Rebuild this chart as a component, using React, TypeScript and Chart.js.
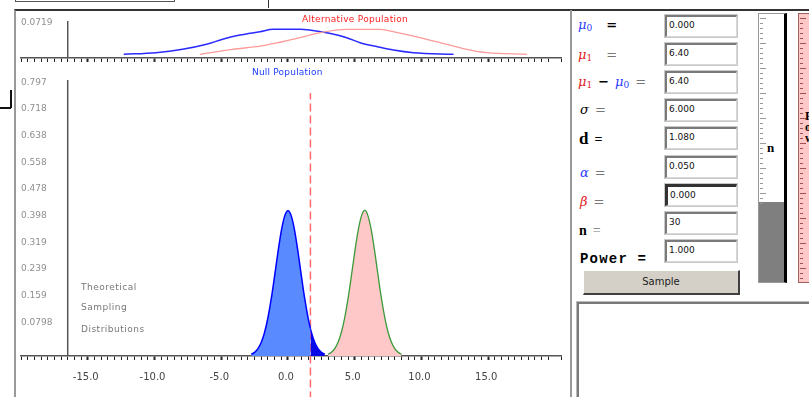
import React, { useEffect, useRef } from 'react';
import { Chart, registerables } from 'chart.js';

Chart.register(...registerables);

// ---------- shared x axis ----------
const X_MIN = -20;
const X_MAX = 20.45;
const X_STEP = 0.5;
const X_LABEL_VALUES = [-15, -10, -5, 0, 5, 10, 15];
const X_LABELS = ['-15.0', '-10.0', '-5.0', '0.0', '5.0', '10.0', '15.0'];
const Y_AXIS_AT = -16.5;

// ---------- top chart: populations ----------
const POP_Y_MAX = 0.094;
const POP_TICK_VALUES = [0.0719];
const POP_TICK_LABELS = ['0.0719'];
const NULL_POP_X = [-12.3, -9.9, -7.9, -6.1, -4.9, -3.6, -2.1, -1.1, 0.9, 1.6, 3.1, 4.4, 5.4, 6.7, 7.9, 9.4, 12.4];
const NULL_POP_Y = [0.0094, 0.0135, 0.0221, 0.0348, 0.0475, 0.0584, 0.0668, 0.0729, 0.0729, 0.0711, 0.0627, 0.0516, 0.0389, 0.0287, 0.0203, 0.0135, 0.0094];
const ALT_POP_X = [-6.6, -4.15, -2.1, -0.6, 0.9, 2.4, 4.4, 6.9, 8.2, 10.1, 11.9, 13.4, 14.9, 17.9];
const ALT_POP_Y = [0.0094, 0.0221, 0.0300, 0.0400, 0.0515, 0.0643, 0.0729, 0.0729, 0.0643, 0.0500, 0.0348, 0.0221, 0.0135, 0.0094];

// ---------- main chart: sampling distributions ----------
const SAMPLE_Y_MAX = 0.8248;
const SAMPLE_TICK_VALUES = [0.0797, 0.1594, 0.2391, 0.3188, 0.3985, 0.4782, 0.5579, 0.6376, 0.7173, 0.797];
const SAMPLE_TICK_LABELS = ['0.0798', '0.159', '0.239', '0.319', '0.398', '0.478', '0.558', '0.638', '0.718', '0.797'];
const CRIT = 1.68;
const CRIT_LINE_Y = [-0.13, 0.786];
const NULL_X = [-2.75, -2.5, -2.25, -2, -1.75, -1.5, -1.25, -1, -0.75, -0.5, -0.25, 0, 0.25, 0.5, 0.75, 1, 1.25, 1.5, 1.68, 1.75, 2, 2.25, 2.5, 2.75];
const NULL_Y = [0.005, 0.011, 0.022, 0.041, 0.071, 0.115, 0.172, 0.240, 0.311, 0.374, 0.418, 0.434, 0.418, 0.374, 0.311, 0.240, 0.172, 0.115, 0.082, 0.071, 0.041, 0.022, 0.011, 0.005];
const ALT_X = [3.0, 3.25, 3.5, 3.75, 4.0, 4.25, 4.5, 4.75, 5.0, 5.25, 5.5, 5.75, 6.0, 6.25, 6.5, 6.75, 7.0, 7.25, 7.5, 7.75, 8.0, 8.25, 8.5];
const ALT_Y = [0.005, 0.011, 0.022, 0.041, 0.071, 0.115, 0.172, 0.240, 0.311, 0.374, 0.418, 0.436, 0.418, 0.374, 0.311, 0.240, 0.172, 0.115, 0.071, 0.041, 0.022, 0.011, 0.005];

// ---------- control panel values ----------
const FIELD_VALUES = ['0.000', '6.40', '6.40', '6.000', '1.080', '0.050', '0.000', '30', '1.000'];
const POWER_BAR_LETTERS = ['P', 'o', 'w'];

const FONT = "'DejaVu Sans', 'Liberation Sans', sans-serif";

function pts(xs: number[], ys: number[]) {
  return xs.map((x, i) => ({ x, y: ys[i] }));
}

function xLabel(v: number) {
  const i = X_LABEL_VALUES.findIndex((u) => Math.abs(u - v) < 1e-6);
  return i >= 0 ? X_LABELS[i] : '';
}

function makeOptions(yMax: number, tickValues: number[], tickLabels: string[], padTop: number, xHeight: number, showXLabels: boolean): any {
  return {
    animation: false,
    responsive: false,
    maintainAspectRatio: false,
    devicePixelRatio: 1,
    layout: { padding: { left: 21, right: 15, top: padTop, bottom: 0 } },
    plugins: { legend: { display: false }, tooltip: { enabled: false }, title: { display: false } },
    elements: { point: { radius: 0 } },
    scales: {
      x: {
        type: 'linear',
        min: X_MIN,
        max: X_MAX,
        afterFit: (s: any) => { s.height = xHeight; },
        ticks: {
          display: showXLabels,
          stepSize: X_STEP,
          maxTicksLimit: 200,
          autoSkip: false,
          maxRotation: 0,
          minRotation: 0,
          padding: 11,
          labelOffset: -2,
          color: '#444',
          font: { family: FONT, size: 10 },
          callback: (v: any) => xLabel(Number(v)),
        },
        grid: {
          drawOnChartArea: false,
          drawTicks: true,
          tickLength: 4,
          tickColor: '#222',
          tickWidth: (ctx: any) => (ctx.tick && X_LABEL_VALUES.some((u) => Math.abs(u - ctx.tick.value) < 1e-6) ? 2 : 1),
        },
        border: { display: true, color: '#555', width: 1.5 },
      },
      y: {
        type: 'linear',
        position: 'left',
        min: 0,
        max: yMax,
        afterFit: (s: any) => { s.width = 0; },
        afterBuildTicks: (s: any) => { s.ticks = tickValues.map((v) => ({ value: v })); },
        ticks: {
          mirror: true,
          padding: 0,
          labelOffset: -7,
          color: '#8f8f8f',
          font: { family: FONT, size: 9 },
          callback: (_v: any, i: number) => tickLabels[i],
        },
        grid: { display: false, drawTicks: false },
        border: { display: false },
      },
    },
  };
}

function TopChart() {
  const ref = useRef<HTMLCanvasElement>(null);
  useEffect(() => {
    const chart = new Chart(ref.current as HTMLCanvasElement, {
      type: 'line',
      data: {
        datasets: [
          { data: [{ x: Y_AXIS_AT, y: 0 }, { x: Y_AXIS_AT, y: POP_Y_MAX }], borderColor: '#555', borderWidth: 1.5, fill: false },
          { data: pts(ALT_POP_X, ALT_POP_Y), borderColor: '#ff9a9a', borderWidth: 1.3, fill: false, tension: 0.35, cubicInterpolationMode: 'monotone' },
          { data: pts(NULL_POP_X, NULL_POP_Y), borderColor: '#2a2aff', borderWidth: 1.5, fill: false, tension: 0.35, cubicInterpolationMode: 'monotone' },
        ] as any,
      },
      options: makeOptions(POP_Y_MAX, POP_TICK_VALUES, POP_TICK_LABELS, 9, 8, false),
    });
    return () => chart.destroy();
  }, []);
  return <canvas ref={ref} width={576} height={54} style={{ position: 'absolute', left: 0, top: 12, width: 576, height: 54 }} />;
}

function MainChart() {
  const ref = useRef<HTMLCanvasElement>(null);
  useEffect(() => {
    const nullPts = pts(NULL_X, NULL_Y);
    const chart = new Chart(ref.current as HTMLCanvasElement, {
      type: 'line',
      data: {
        datasets: [
          { data: [{ x: Y_AXIS_AT, y: 0 }, { x: Y_AXIS_AT, y: SAMPLE_Y_MAX }], borderColor: '#555', borderWidth: 1.5, fill: false },
          { data: nullPts.filter((p) => p.x <= CRIT), borderColor: '#0000ff', borderWidth: 1.5, backgroundColor: '#5a8aff', fill: 'origin', tension: 0.3, cubicInterpolationMode: 'monotone' },
          { data: nullPts.filter((p) => p.x >= CRIT), borderColor: '#0000ff', borderWidth: 1.5, backgroundColor: '#0a0ae6', fill: 'origin', tension: 0.3, cubicInterpolationMode: 'monotone' },
          { data: pts(ALT_X, ALT_Y), borderColor: '#3a9a3a', borderWidth: 1.3, backgroundColor: '#ffc8c8', fill: 'origin', tension: 0.3, cubicInterpolationMode: 'monotone' },
          { data: [{ x: CRIT, y: CRIT_LINE_Y[0] }, { x: CRIT, y: CRIT_LINE_Y[1] }], borderColor: '#ff6a6a', borderWidth: 1.5, borderDash: [8, 4], fill: false, clip: false },
        ] as any,
      },
      options: makeOptions(SAMPLE_Y_MAX, SAMPLE_TICK_VALUES, SAMPLE_TICK_LABELS, 18, 41, true),
    });
    return () => chart.destroy();
  }, []);
  return <canvas ref={ref} width={576} height={335} style={{ position: 'absolute', left: 0, top: 62, width: 576, height: 335 }} />;
}

const abs = (s: React.CSSProperties): React.CSSProperties => ({ position: 'absolute', ...s });

function Lbl({ x, y, children, style }: { x: number; y: number; children: React.ReactNode; style?: React.CSSProperties }) {
  return (
    <div style={abs({ left: x, top: y - 9, height: 18, lineHeight: '18px', whiteSpace: 'nowrap', fontFamily: "'DejaVu Serif', serif", fontSize: 13, ...style })}>
      {children}
    </div>
  );
}

const FIELD_TOPS = [15, 43, 71, 99, 127, 156, 184, 212, 240];

function Field({ top, text, focused }: { top: number; text: string; focused?: boolean }) {
  return (
    <div
      style={abs({
        left: 665, top, width: 72, height: 22, boxSizing: 'border-box', background: '#fff',
        borderTop: focused ? '3px solid #333' : '2px solid #7a7a7a',
        borderLeft: focused ? '3px solid #333' : '2px solid #7a7a7a',
        borderRight: '1px solid #d8d8d8', borderBottom: '1px solid #d8d8d8',
        outline: '1px solid #c8c8c8',
        fontFamily: "'DejaVu Sans', sans-serif", fontSize: 9, lineHeight: '17px', paddingLeft: 2, color: '#111',
      })}
    >
      {text}
    </div>
  );
}

const mu = (color: string, sub: string) => (
  <span style={{ color }}>
    <i>μ</i>
    <span style={{ fontSize: 9, position: 'relative', top: 2 }}>{sub}</span>
  </span>
);

function Panel() {
  const ticks1 = [] as React.ReactNode[];
  for (let k = 0; k < 38; k++) {
    const y = 18 + k * 5;
    ticks1.push(<div key={k} style={abs({ left: 760, top: y, width: k % 5 === 0 ? 6 : 3, height: 1, background: '#999' })} />);
  }
  const ticks2 = [] as React.ReactNode[];
  for (let k = 0; k < 53; k++) {
    const y = 18 + k * 5;
    ticks2.push(<div key={k} style={abs({ left: 800, top: y, width: k % 5 === 0 ? 6 : 3, height: 1, background: '#a05050' })} />);
  }
  return (
    <>
      <Lbl x={578} y={25}>{mu('#2a3cff', '0')}<b style={{ marginLeft: 14 }}>=</b></Lbl>
      <Lbl x={578} y={55}>{mu('#e02020', '1')}<span style={{ marginLeft: 14, color: '#777' }}>=</span></Lbl>
      <Lbl x={578} y={82}>{mu('#e02020', '1')}<b style={{ margin: '0 6px' }}>−</b>{mu('#2a3cff', '0')}<span style={{ marginLeft: 6, color: '#777' }}>=</span></Lbl>
      <Lbl x={580} y={110}><i>σ</i><span style={{ marginLeft: 6, color: '#777' }}>=</span></Lbl>
      <Lbl x={579} y={139} style={{ fontFamily: "'Liberation Serif', serif", fontWeight: 'bold', fontSize: 17 }}>d<span style={{ marginLeft: 6, fontSize: 14 }}>=</span></Lbl>
      <Lbl x={580} y={173}><i style={{ color: '#2a3cff' }}>α</i><span style={{ marginLeft: 6, color: '#777' }}>=</span></Lbl>
      <Lbl x={580} y={202}><i style={{ color: '#e02020' }}>β</i><span style={{ marginLeft: 6, color: '#777' }}>=</span></Lbl>
      <Lbl x={579} y={231} style={{ fontFamily: "'Liberation Serif', serif", fontWeight: 'bold', fontSize: 14 }}>n<span style={{ marginLeft: 6, color: '#777', fontWeight: 'normal' }}>=</span></Lbl>
      <Lbl x={580} y={259} style={{ fontFamily: "'Liberation Mono', monospace", fontWeight: 'bold', fontSize: 14, letterSpacing: 1.2 }}>Power =</Lbl>
      {FIELD_VALUES.map((t, i) => <Field key={i} top={FIELD_TOPS[i]} text={t} focused={i === 6} />)}
      <div style={abs({ left: 583, top: 270, width: 157, height: 25, boxSizing: 'border-box', background: '#d4d0c8', borderTop: '1px solid #fff', borderLeft: '1px solid #fff', borderRight: '2px solid #404040', borderBottom: '2px solid #404040', fontFamily: "'DejaVu Sans', sans-serif", fontSize: 10, lineHeight: '22px', textAlign: 'center', color: '#222' })}>Sample</div>
      <div style={abs({ left: 577, top: 302, width: 250, height: 110, boxSizing: 'border-box', background: '#fff', borderTop: '2px solid #7a7a7a', borderLeft: '2px solid #7a7a7a', borderRight: '1px solid #ccc', borderBottom: '1px solid #ccc', outline: '1px solid #bbb' })} />
      {/* n slider */}
      <div style={abs({ left: 758, top: 13, width: 29, height: 270, boxSizing: 'border-box', background: '#fff', borderLeft: '1px solid #999', borderTop: '1px solid #999', borderBottom: '1px solid #999', borderRight: '3px solid #000' })} />
      <div style={abs({ left: 759, top: 202, width: 25, height: 80, background: '#7f7f7f' })} />
      {ticks1}
      <div style={abs({ left: 767, top: 140, fontFamily: "'Liberation Serif', serif", fontWeight: 'bold', fontSize: 13, lineHeight: '16px' })}>n</div>
      {/* power slider */}
      <div style={abs({ left: 798, top: 13, width: 20, height: 270, boxSizing: 'border-box', background: '#ffc8c8', border: '1px solid #a06060' })} />
      {ticks2}
      {POWER_BAR_LETTERS.map((ch, i) => (
        <div key={ch} style={abs({ left: 805, top: 110 + i * 11, fontFamily: "'Liberation Serif', serif", fontWeight: 'bold', fontSize: 12, lineHeight: '12px' })}>{ch}</div>
      ))}
    </>
  );
}

const noteStyle = (left: number, top: number, color: string, ls: number): React.CSSProperties =>
  abs({ left, top, fontFamily: FONT, fontSize: 9, lineHeight: '12px', color, whiteSpace: 'nowrap', letterSpacing: ls });

export default function App() {
  return (
    <div style={{ position: 'fixed', left: 0, top: 0, width: 809, height: 397, overflow: 'hidden', background: '#fff' }}>
      {/* window chrome */}
      <div style={abs({ left: 15, top: -20, width: 160, height: 22, boxSizing: 'border-box', border: '1px solid #555' })} />
      <div style={abs({ left: 268, top: 0, width: 1, height: 8, background: '#333' })} />
      <div style={abs({ left: 14, top: 9, width: 820, height: 400, boxSizing: 'border-box', borderTop: '2px solid #333', borderLeft: '2px solid #999' })} />
      <div style={abs({ left: 570, top: 10, width: 2, height: 390, background: '#999' })} />
      <div style={abs({ left: 10, top: 90, width: 1.5, height: 18, background: '#111' })} />
      <div style={abs({ left: 0, top: 107, width: 11, height: 1.5, background: '#111' })} />
      <TopChart />
      <MainChart />
      {/* chart annotations */}
      <div style={noteStyle(302, 13, '#ff2020', 0.3)}>Alternative Population</div>
      <div style={noteStyle(252, 66, '#2040ff', 0.2)}>Null Population</div>
      <div style={noteStyle(81, 281, '#777', 0.5)}>Theoretical</div>
      <div style={noteStyle(81, 301, '#777', 0.5)}>Sampling</div>
      <div style={noteStyle(81, 323, '#777', 0.5)}>Distributions</div>
      <Panel />
    </div>
  );
}
